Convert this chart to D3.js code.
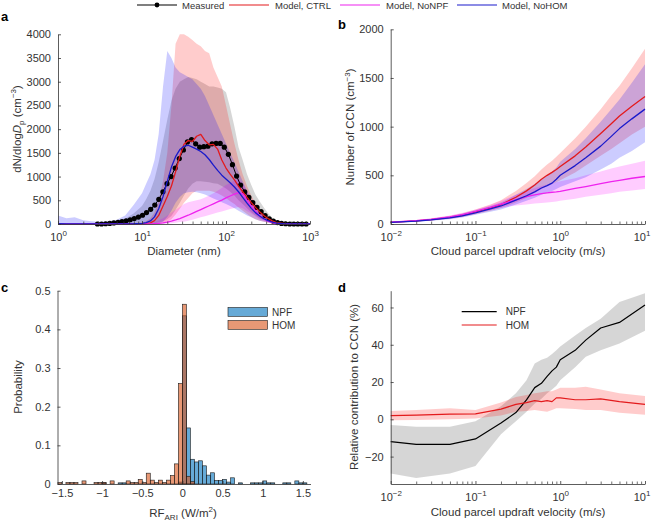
<!DOCTYPE html>
<html><head><meta charset="utf-8">
<script src="https://cdn.jsdelivr.net/npm/d3@7"></script>
<style>body{margin:0;background:#fff}svg{font-family:"Liberation Sans",Arial,Helvetica,sans-serif}</style>
</head><body>
<svg id="chart" width="652" height="523"></svg>
<script>
// ---------------- Panel a: size distributions ----------------
const measDiam = [2.95,3.30,3.69,4.13,4.62,5.18,5.78,6.47,7.24,8.09,9.06,10.14,11.32,12.68,14.19,15.85,17.74,19.86,22.18,24.83,27.80,31.12,34.75,38.90,43.55,48.64,54.45,60.95,68.23,76.21,85.31,95.50,106.7,119.4,133.7,149.3,167.1,187.1,208.9,233.9,261.8,292.4,327.3,366.4,410.2,458.1,512.9,574.1,642.7,717.8,803.5,899.5];
const measDN = [0,0,5,12,22,35,50,68,90,115,145,185,240,310,400,520,680,850,1000,1180,1380,1560,1730,1780,1690,1620,1630,1640,1690,1700,1700,1620,1470,1250,1010,820,680,560,450,350,260,175,110,60,30,12,5,0,0,0,0,0];
const modelDiam = [1,1.26,1.58,2.0,2.51,3.16,3.98,5.01,6.31,7.94,10,11.2,12.6,14.1,15.8,17.8,20.0,22.4,25.1,28.2,31.6,35.5,39.8,44.7,50.1,56.2,63.1,70.8,79.4,89.1,100,112,126,141,158,178,200,224,251,282,316,355,398,501,631,794,1000];
const ctrlDN  = [2,2,1,1,1,1,1,1,2,3,5,10,25,70,180,380,580,800,1100,1430,1680,1760,1740,1850,1890,1760,1670,1680,1580,1350,1180,1050,930,800,680,560,450,350,260,180,115,65,30,5,0,0,0];
const noNpfDN = [0,0,0,0,0,0,0,0,0,0,1,2,3,8,15,25,40,60,85,115,150,185,225,265,305,345,385,425,465,505,550,590,630,660,640,500,380,270,180,110,60,28,10,2,0,0,0];
const noHomDN = [5,4,3,2,1,1,1,2,3,5,12,28,65,150,320,580,900,1200,1420,1570,1640,1660,1620,1580,1530,1460,1360,1240,1130,1030,950,870,780,680,560,440,330,240,170,110,70,40,20,4,0,0,0];
const measHi  = [0,0,0,0,0,0,20,50,110,220,380,520,700,950,1300,1750,2200,2600,2850,3000,3050,3100,3080,3050,3000,2950,2900,2900,2880,2850,2780,2450,2050,1620,1350,1050,820,620,480,350,230,130,70,15,0,0,0];
const measLo  = [0,0,0,0,0,0,0,0,0,0,0,0,0,10,30,60,100,170,300,450,600,750,850,900,900,890,880,860,850,800,750,680,600,500,420,330,250,180,120,80,50,25,15,0,0,0,0];
const ctrlHi  = [0,0,0,0,0,0,0,5,10,20,30,60,120,250,500,900,1500,2500,3800,4000,4000,3950,3880,3800,3750,3650,3600,3300,3100,2900,2500,2100,1700,1350,1050,800,600,430,300,200,120,60,25,5,0,0,0];
const ctrlLo  = [0,0,0,0,0,0,0,0,0,0,0,0,0,0,5,20,50,100,200,320,450,550,650,700,700,700,700,680,650,600,550,480,420,350,280,210,150,100,70,45,25,12,8,0,0,0,0];
const noNpfHi = [0,0,0,0,0,0,0,0,0,0,5,10,20,40,80,120,180,240,300,360,420,460,480,500,520,560,600,650,700,760,820,870,920,950,850,680,500,350,230,140,80,40,15,3,0,0,0];
const noNpfLo = [0,0,0,0,0,0,0,0,0,0,0,0,0,0,0,5,10,15,25,40,50,70,90,115,140,165,190,215,240,265,290,315,340,360,330,270,220,160,100,65,40,20,10,0,0,0,0];
const noHomHi = [180,120,140,80,60,50,60,90,180,400,650,850,1050,1350,1900,2900,3650,3500,3300,3200,3150,3100,3050,2950,2850,2700,2500,2300,2100,1900,1700,1500,1300,1100,900,700,520,380,260,170,100,60,30,10,0,0,0];
const noHomLo = [0,0,0,0,0,0,0,0,0,0,0,0,0,5,15,50,150,280,450,570,650,670,680,670,650,620,580,540,500,460,420,380,330,280,230,180,140,100,70,50,30,18,10,0,0,0,0];
const aXTicks = [1,10,100,1000];
const aXExp = ["0","1","2","3"];
const aYTicks = [0,500,1000,1500,2000,2500,3000,3500,4000];

// ---------------- Panel b: CCN vs updraft ----------------
const bVel = [0.01,0.02,0.03,0.05,0.07,0.1,0.15,0.2,0.3,0.4,0.5,0.6,0.7,0.8,0.9,1,1.5,2,3,4,5,7,10];
const ctrlCCN  = [17,32,45,68,90,125,165,200,275,340,400,460,500,530,560,590,700,790,930,1030,1110,1210,1310];
const noHomCCN = [17,30,42,63,83,115,155,185,245,290,330,370,395,420,460,500,600,680,800,900,980,1080,1180];
const noNpfCCN = [18,35,48,72,95,130,170,205,250,280,300,312,320,326,330,335,365,385,415,435,448,470,488];
const ctrlCCNHi  = [22,40,56,84,110,150,200,245,340,420,490,560,610,650,690,730,880,1000,1180,1320,1420,1600,1800];
const ctrlCCNLo  = [13,25,35,54,72,100,135,165,220,270,320,360,390,410,430,450,530,600,700,770,830,920,1000];
const noHomCCNHi = [21,38,53,80,105,140,185,220,300,360,410,460,500,540,580,640,770,880,1050,1180,1280,1450,1640];
const noHomCCNLo = [13,24,34,50,66,95,125,150,200,240,270,300,320,340,360,380,440,480,560,620,680,750,840];
const noNpfCCNHi = [23,42,58,88,115,150,195,240,300,340,370,390,405,420,430,440,470,500,540,570,590,620,650];
const noNpfCCNLo = [14,28,38,58,76,110,140,165,190,200,210,215,220,225,230,240,260,280,300,315,330,345,360];
const velTicks = [0.01,0.1,1,10];
const velExp = ["\u22122","\u22121","0","1"];
const bYTicks = [0,500,1000,1500,2000];

// ---------------- Panel c: RF_ARI histograms ----------------
const npfEdges = [-1.0,-0.8,-0.75,-0.05,0,0.05,0.1,0.15,0.2,0.25,0.3,0.35,0.4,0.45,0.5,0.55,0.6,0.7,0.85,0.9,0.95,1.0,1.05,1.1,1.25,1.3,1.4,1.45,1.5];
const npfProb  = [0.003,0.003,0.003,0.005,0.435,0.145,0.064,0.057,0.06,0.047,0.023,0.029,0.009,0.009,0.012,0.005,0.016,0.003,0.003,0.003,0.003,0.008,0.003,0.003,0.003,0.003,0.008,0.003,0.003];
const homEdges = [-1.55,-1.45,-1.4,-1.35,-1.25,-1.1,-1.05,-1.0,-0.9,-0.7,-0.65,-0.6,-0.55,-0.5,-0.45,-0.4,-0.35,-0.3,-0.25,-0.2,-0.15,-0.1,-0.05,0,0.05,0.1];
const homProb  = [0.004,0.004,0.004,0.004,0.008,0.004,0.004,0.004,0.008,0.008,0.004,0.004,0.012,0.004,0.028,0.01,0.004,0.01,0.004,0.01,0.022,0.052,0.26,0.465,0.02,0.006];
const binWidth = 0.05;
const cXTicks = [-1.5,-1,-0.5,0,0.5,1,1.5];
const cYTicks = [0,0.1,0.2,0.3,0.4,0.5];

// ---------------- Panel d: relative contribution ----------------
const dVel = [0.01,0.02,0.05,0.1,0.2,0.3,0.4,0.5,0.6,0.7,0.8,0.9,1,1.5,2,3,5,10];
const npfContrib = [-12,-13.4,-13.4,-10.5,-2,3.6,10.4,17,19.3,23,26,28,32,37,42.5,49,52,61.3];
const npfContribHi = [-3,-4,-4,-1,7,14,21,30,32,33,35,37,39,45,49,54,63,67.6];
const npfContribLo = [-29,-31.5,-29,-25,-8,-1,4,8.5,11,14,16,18,21,28,33.5,37,40.7,47.5];
const homContrib = [2,2.3,2.8,2.9,5.5,8,9,10,9.5,10,9.5,11.5,11.5,10.5,10.5,11,9.5,8];
const homContribHi = [4.5,5,6,5,9,12,13,14,14.5,15,15,16,17,17,17.5,16,14,12.5];
const homContribLo = [-0.5,-0.3,0,0.5,2,4,4.5,5,4.5,4,5,6,6,5.5,5,5,3.5,2.5];
const dYTicks = [-20,0,20,40,60];

// ---------------- drawing ----------------
const svg = d3.select("#chart");
const AX = "#333";
const C_RED = "#e31a1c", C_BLUE = "#1a1acb", C_MAG = "#ee22ee", C_BLK = "#000";

function minorsFor(decades){
  const m = [];
  decades.forEach(d => { for (let k=2;k<=9;k++) m.push(d*k); });
  return m;
}
function styleAxis(g, fs){
  g.select(".domain").attr("stroke", AX).attr("stroke-width", 0.8);
  g.selectAll(".tick line").attr("stroke", AX).attr("stroke-width", 0.8);
  g.selectAll(".tick text").attr("fill", AX).attr("font-size", fs||11).attr("font-family", null);
}
function logXAxis(x, y0, majors, exps, lastShift){
  const g = svg.append("g").attr("transform", `translate(0,${y0})`);
  g.call(d3.axisBottom(x).tickValues(majors).tickSize(-3).tickSizeOuter(0).tickPadding(9).tickFormat(()=>""));
  styleAxis(g);
  g.selectAll(".tick text").each(function(d,i){
    const t = d3.select(this);
    if (i === majors.length-1 && lastShift) t.attr("dx", lastShift);
    t.append("tspan").text("10");
    t.append("tspan").attr("dy", -5).attr("font-size", 8).text(exps[i]);
  });
  const dom = x.domain();
  const decs = majors.filter(v => v < dom[1]);
  const mg = svg.append("g").attr("transform", `translate(0,${y0})`);
  mg.call(d3.axisBottom(x).tickValues(minorsFor(decs).filter(v=>v<dom[1])).tickSize(-2.5).tickSizeOuter(0).tickFormat(()=>""));
  mg.select(".domain").remove();
  mg.selectAll(".tick line").attr("stroke", AX).attr("stroke-width", 0.7);
  return g;
}
function yAxis(y, x0, ticks, fmt){
  const g = svg.append("g").attr("transform", `translate(${x0},0)`);
  g.call(d3.axisLeft(y).tickValues(ticks).tickSize(-3).tickSizeOuter(0).tickPadding(7).tickFormat(fmt));
  styleAxis(g);
  return g;
}
function band(xs, lo, hi, x, y, color, op){
  const pts = xs.map((v,i)=>({v:v, lo:lo[i], hi:hi[i]}));
  svg.append("path").datum(pts)
    .attr("d", d3.area().x(d=>x(d.v)).y0(d=>y(d.lo)).y1(d=>y(d.hi)))
    .attr("fill", color).attr("fill-opacity", op).attr("stroke", "none");
}
function line(xs, ys, x, y, color, w){
  const pts = xs.map((v,i)=>({v:v, y:ys[i]}));
  svg.append("path").datum(pts)
    .attr("d", d3.line().x(d=>x(d.v)).y(d=>y(d.y)))
    .attr("fill", "none").attr("stroke", color).attr("stroke-width", w||1.2).attr("stroke-linejoin","round");
}
function panelLetter(t, x, y){
  svg.append("text").attr("x", x).attr("y", y).attr("font-size", 13).attr("font-weight", "bold").attr("fill", "#000").text(t);
}
const minus = v => String(v).replace("-", "\u2212");

// ===== Panel a =====
const xa = d3.scaleLog().domain([1,1000]).range([58,310]);
const ya = d3.scaleLinear().domain([0,4000]).range([224,34.3]);
band(modelDiam, measLo, measHi, xa, ya, "#808080", 0.32);
band(modelDiam, ctrlLo, ctrlHi, xa, ya, "#ff0000", 0.2);
band(modelDiam, noNpfLo, noNpfHi, xa, ya, "#ff00ff", 0.2);
band(modelDiam, noHomLo, noHomHi, xa, ya, "#0000ff", 0.2);
line(measDiam, measDN, xa, ya, C_BLK, 1);
svg.append("g").selectAll("circle").data(measDiam).join("circle")
  .attr("cx", d=>xa(d)).attr("cy", (d,i)=>ya(measDN[i])).attr("r", 2.6).attr("fill", "#000");
line(modelDiam, ctrlDN, xa, ya, C_RED, 1.3);
line(modelDiam, noNpfDN, xa, ya, C_MAG, 1.3);
line(modelDiam, noHomDN, xa, ya, C_BLUE, 1.3);
logXAxis(xa, 224, aXTicks, aXExp, 0);
yAxis(ya, 58, aYTicks, d=>d);
svg.append("text").attr("x", 184).attr("y", 254.5).attr("text-anchor","middle").attr("font-size", 11.5).attr("fill", AX).text("Diameter (nm)");
{
  const t = svg.append("text").attr("transform","translate(20.5,129) rotate(-90)").attr("text-anchor","middle").attr("font-size", 11.5).attr("fill", AX);
  t.append("tspan").text("dN/dlog");
  t.append("tspan").attr("font-style","italic").text("D");
  t.append("tspan").attr("dy", 3).attr("font-size", 8).text("p");
  t.append("tspan").attr("dy", -3).text(" (cm");
  t.append("tspan").attr("dy", -4.5).attr("font-size", 8).text("\u22123");
  t.append("tspan").attr("dy", 4.5).text(")");
}
panelLetter("a", 1, 21);

// ===== Panel b =====
const xb = d3.scaleLog().domain([0.01,10]).range([390.7,645]);
const yb = d3.scaleLinear().domain([0,2000]).range([224,29.3]);
band(bVel, ctrlCCNLo, ctrlCCNHi, xb, yb, "#ff0000", 0.2);
band(bVel, noNpfCCNLo, noNpfCCNHi, xb, yb, "#ff00ff", 0.2);
band(bVel, noHomCCNLo, noHomCCNHi, xb, yb, "#0000ff", 0.2);
line(bVel, ctrlCCN, xb, yb, C_RED, 1.3);
line(bVel, noNpfCCN, xb, yb, C_MAG, 1.3);
line(bVel, noHomCCN, xb, yb, C_BLUE, 1.3);
logXAxis(xb, 224, velTicks, velExp, -3.5);
yAxis(yb, 390.7, bYTicks, d=>d);
svg.append("text").attr("x", 518).attr("y", 255).attr("text-anchor","middle").attr("font-size", 11.5).attr("fill", AX).text("Cloud parcel updraft velocity (m/s)");
{
  const t = svg.append("text").attr("transform","translate(354,127) rotate(-90)").attr("text-anchor","middle").attr("font-size", 11.5).attr("fill", AX);
  t.append("tspan").text("Number of CCN (cm");
  t.append("tspan").attr("dy", -4.5).attr("font-size", 8).text("\u22123");
  t.append("tspan").attr("dy", 4.5).text(")");
}
panelLetter("b", 338, 29);

// ===== Panel c =====
const xc = d3.scaleLinear().domain([-1.555,1.595]).range([57.5,310.5]);
const yc = d3.scaleLinear().domain([0,0.5]).range([484,290.7]);
const NPF_FILL = "rgb(0,114,189)", HOM_FILL = "rgb(217,83,25)";
svg.append("g").selectAll("rect").data(npfEdges).join("rect")
  .attr("x", d=>xc(d)).attr("width", d=>xc(d+binWidth)-xc(d))
  .attr("y", (d,i)=>yc(npfProb[i])).attr("height", (d,i)=>yc(0)-yc(npfProb[i]))
  .attr("fill", NPF_FILL).attr("fill-opacity", 0.6).attr("stroke", "#1a1a1a").attr("stroke-width", 0.6);
svg.append("g").selectAll("rect").data(homEdges).join("rect")
  .attr("x", d=>xc(d)).attr("width", d=>xc(d+binWidth)-xc(d))
  .attr("y", (d,i)=>yc(homProb[i])).attr("height", (d,i)=>yc(0)-yc(homProb[i]))
  .attr("fill", HOM_FILL).attr("fill-opacity", 0.6).attr("stroke", "#1a1a1a").attr("stroke-width", 0.6);
{
  const g = svg.append("g").attr("transform","translate(0,484)");
  g.call(d3.axisBottom(xc).tickValues(cXTicks).tickSize(-3).tickSizeOuter(0).tickPadding(5.5).tickFormat(d=>minus(d)));
  styleAxis(g);
}
yAxis(yc, 57.5, cYTicks, d=>d);
{
  const t = svg.append("text").attr("x", 183).attr("y", 516.5).attr("text-anchor","middle").attr("font-size", 11.5).attr("fill", AX);
  t.append("tspan").text("RF");
  t.append("tspan").attr("dy", 3).attr("font-size", 8).text("ARI");
  t.append("tspan").attr("dy", -3).text(" (W/m");
  t.append("tspan").attr("dy", -4.5).attr("font-size", 8).text("2");
  t.append("tspan").attr("dy", 4.5).text(")");
}
svg.append("text").attr("transform","translate(22,387) rotate(-90)").attr("text-anchor","middle").attr("font-size", 11.5).attr("fill", AX).text("Probability");
// legend c
[["NPF", NPF_FILL, 307.5], ["HOM", HOM_FILL, 320.5]].forEach(([lab, col, yy]) => {
  svg.append("rect").attr("x", 228).attr("y", yy).attr("width", 39.5).attr("height", 8.8)
    .attr("fill", col).attr("fill-opacity", 0.6).attr("stroke", "#1a1a1a").attr("stroke-width", 0.6);
  svg.append("text").attr("x", 272).attr("y", yy + 8.3).attr("font-size", 10).attr("fill", AX).text(lab);
});
panelLetter("c", 1, 291.5);

// ===== Panel d =====
const xd = d3.scaleLog().domain([0.01,10]).range([390.7,645]);
const yd = d3.scaleLinear().domain([-34.7,69]).range([484,290.7]);
band(dVel, npfContribLo, npfContribHi, xd, yd, "#808080", 0.32);
band(dVel, homContribLo, homContribHi, xd, yd, "#ff0000", 0.2);
line(dVel, npfContrib, xd, yd, C_BLK, 1.2);
line(dVel, homContrib, xd, yd, C_RED, 1.2);
logXAxis(xd, 484, velTicks, velExp, -3.5);
yAxis(yd, 390.7, dYTicks, d=>minus(d));
svg.append("text").attr("x", 518).attr("y", 515.5).attr("text-anchor","middle").attr("font-size", 11.5).attr("fill", AX).text("Cloud parcel updraft velocity (m/s)");
svg.append("text").attr("transform","translate(358,387) rotate(-90)").attr("text-anchor","middle").attr("font-size", 11.5).attr("fill", AX).text("Relative contribution to CCN (%)");
[["NPF", C_BLK, 311.7], ["HOM", C_RED, 325]].forEach(([lab, col, yy]) => {
  svg.append("line").attr("x1", 461.7).attr("x2", 496.7).attr("y1", yy).attr("y2", yy).attr("stroke", col).attr("stroke-width", 1.2);
  svg.append("text").attr("x", 505.7).attr("y", yy + 3.6).attr("font-size", 10).attr("fill", AX).text(lab);
});
panelLetter("d", 338, 291.5);

// ===== Top legend =====
const legItems = [
  {label:"Measured", color:C_BLK, x1:137, x2:177, tx:182, dot:true},
  {label:"Model, CTRL", color:C_RED, x1:229, x2:269, tx:275},
  {label:"Model, NoNPF", color:C_MAG, x1:340, x2:380, tx:386},
  {label:"Model, NoHOM", color:C_BLUE, x1:457, x2:497, tx:502}
];
legItems.forEach(it => {
  svg.append("line").attr("x1", it.x1).attr("x2", it.x2).attr("y1", 5).attr("y2", 5).attr("stroke", it.color).attr("stroke-width", 1.1);
  if (it.dot) svg.append("circle").attr("cx", (it.x1+it.x2)/2).attr("cy", 5).attr("r", 2.4).attr("fill", "#000");
  svg.append("text").attr("x", it.tx).attr("y", 8.5).attr("font-size", 9.5).attr("fill", AX).text(it.label);
});
</script>
</body></html>
